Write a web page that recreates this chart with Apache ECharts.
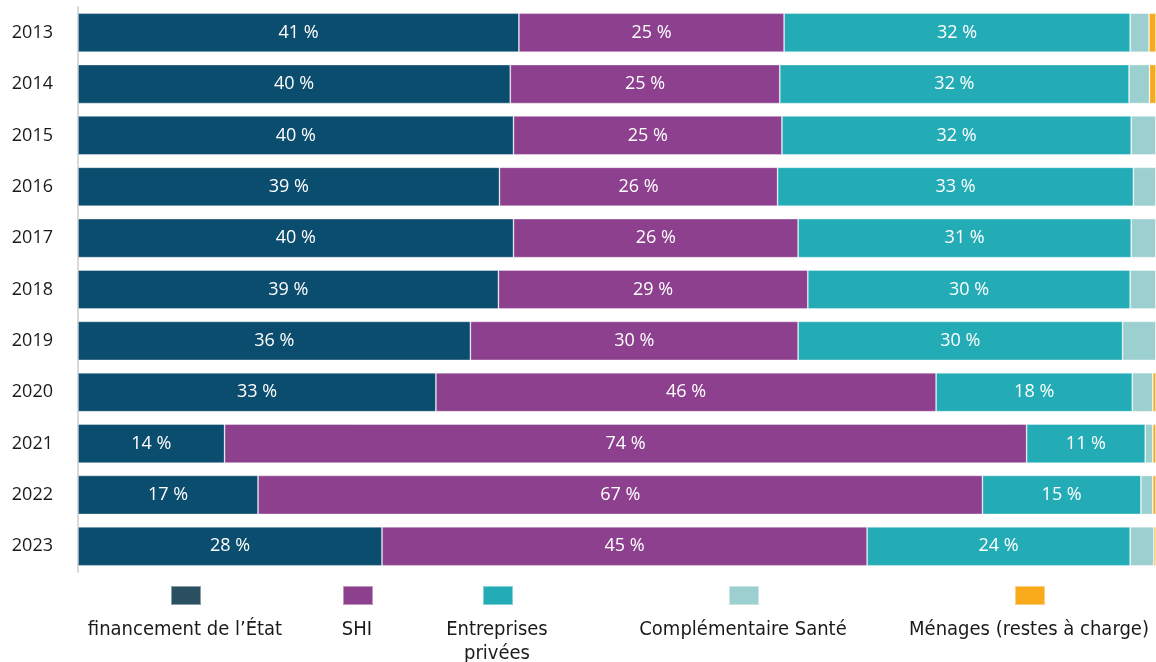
<!DOCTYPE html>
<html><head><meta charset="utf-8">
<script src="https://cdn.jsdelivr.net/npm/echarts@6/dist/echarts.min.js"></script>
<style>html,body{margin:0;padding:0;background:#fff}#c{width:1156px;height:662px}</style>
</head><body><div id="c"></div>
<script>
var years = ['2013','2014','2015','2016','2017','2018','2019','2020','2021','2022','2023'];
var etat = [40.9, 40.1, 40.4, 39.1, 40.4, 39.0, 36.4, 33.2, 13.6, 16.7, 28.2];
var shi = [24.6, 25.0, 24.9, 25.8, 26.4, 28.7, 30.4, 46.4, 74.4, 67.2, 45.0];
var entreprises = [32.1, 32.4, 32.4, 33.0, 30.9, 29.9, 30.1, 18.2, 11.0, 14.7, 24.4];
var complementaire = [1.75, 1.9, 2.3, 2.1, 2.3, 2.4, 3.1, 1.9, 0.7, 1.1, 2.2];
var menages = [0.65, 0.6, 0, 0, 0, 0, 0, 0.3, 0.3, 0.3, 0.2];
var seriesNames = ['financement de l\u2019État', 'SHI', 'Entreprises privées', 'Complémentaire Santé', 'Ménages (restes à charge)'];
var barColors = ['#0b4d6e', '#8c408e', '#23acb6', '#9ccfcf', '#f8aa1b'];
var legendColors = ['#2a4f60', '#8c408e', '#23acb6', '#9ccfcf', '#f8aa1b'];
var legendX = [185, 357, 497, 743, 1029];
var legendText = ['financement de l\u2019État', 'SHI', 'Entreprises\nprivées', 'Complémentaire Santé', 'Ménages (restes à charge)'];

var dataSets = [etat, shi, entreprises, complementaire, menages];
var font = '"Open Sans", "Noto Sans", sans-serif';
var narrow = '"Liberation Sans Narrow", "DejaVu Sans Condensed", "Open Sans", sans-serif';

var chart = echarts.init(document.getElementById('c'), null, {renderer: 'canvas'});
var series = dataSets.map(function (d, i) {
  return {
    name: seriesNames[i],
    type: 'bar',
    stack: 'total',
    barWidth: 39,
    data: d,
    itemStyle: {color: barColors[i], borderColor: 'rgba(255,255,255,0.45)', borderWidth: 0.8},
    label: {
      show: i < 3,
      position: 'inside',
      color: '#ffffff',
      fontFamily: font,
      fontSize: 18,
      formatter: function (p) { return Math.round(p.value) + ' %'; }
    },
    emphasis: {disabled: true}
  };
});

var legends = seriesNames.map(function (n, i) {
  return {
    data: [{name: n, itemStyle: {color: legendColors[i]}}],
    left: legendX[i] - 15,
    top: 585,
    itemWidth: 30,
    itemHeight: 19,
    icon: 'rect',
    formatter: function () { return ''; },
    selectedMode: false,
    padding: 0,
    itemGap: 0
  };
});

var graphics = legendText.map(function (t, i) {
  return {
    type: 'text',
    style: {
      text: t,
      x: legendX[i],
      y: 618,
      textAlign: 'center',
      textVerticalAlign: 'top',
      fill: '#1a1a1a',
      font: '20px ' + narrow,
      lineHeight: 24
    }
  };
});

chart.setOption({
  animation: false,
  grid: {left: 78, right: 0, top: 7, bottom: 90, containLabel: false, outerBoundsMode: 'none'},
  xAxis: {
    type: 'value', min: 0, max: 100,
    show: false
  },
  yAxis: {
    type: 'category',
    data: years,
    inverse: true,
    axisLine: {show: true, lineStyle: {color: '#d9d9d9', width: 2}},
    axisTick: {show: false},
    axisLabel: {color: '#1a1a1a', fontFamily: font, fontSize: 18, margin: 25}
  },
  legend: legends,
  graphic: graphics,
  series: series
});
</script>
</body></html>
